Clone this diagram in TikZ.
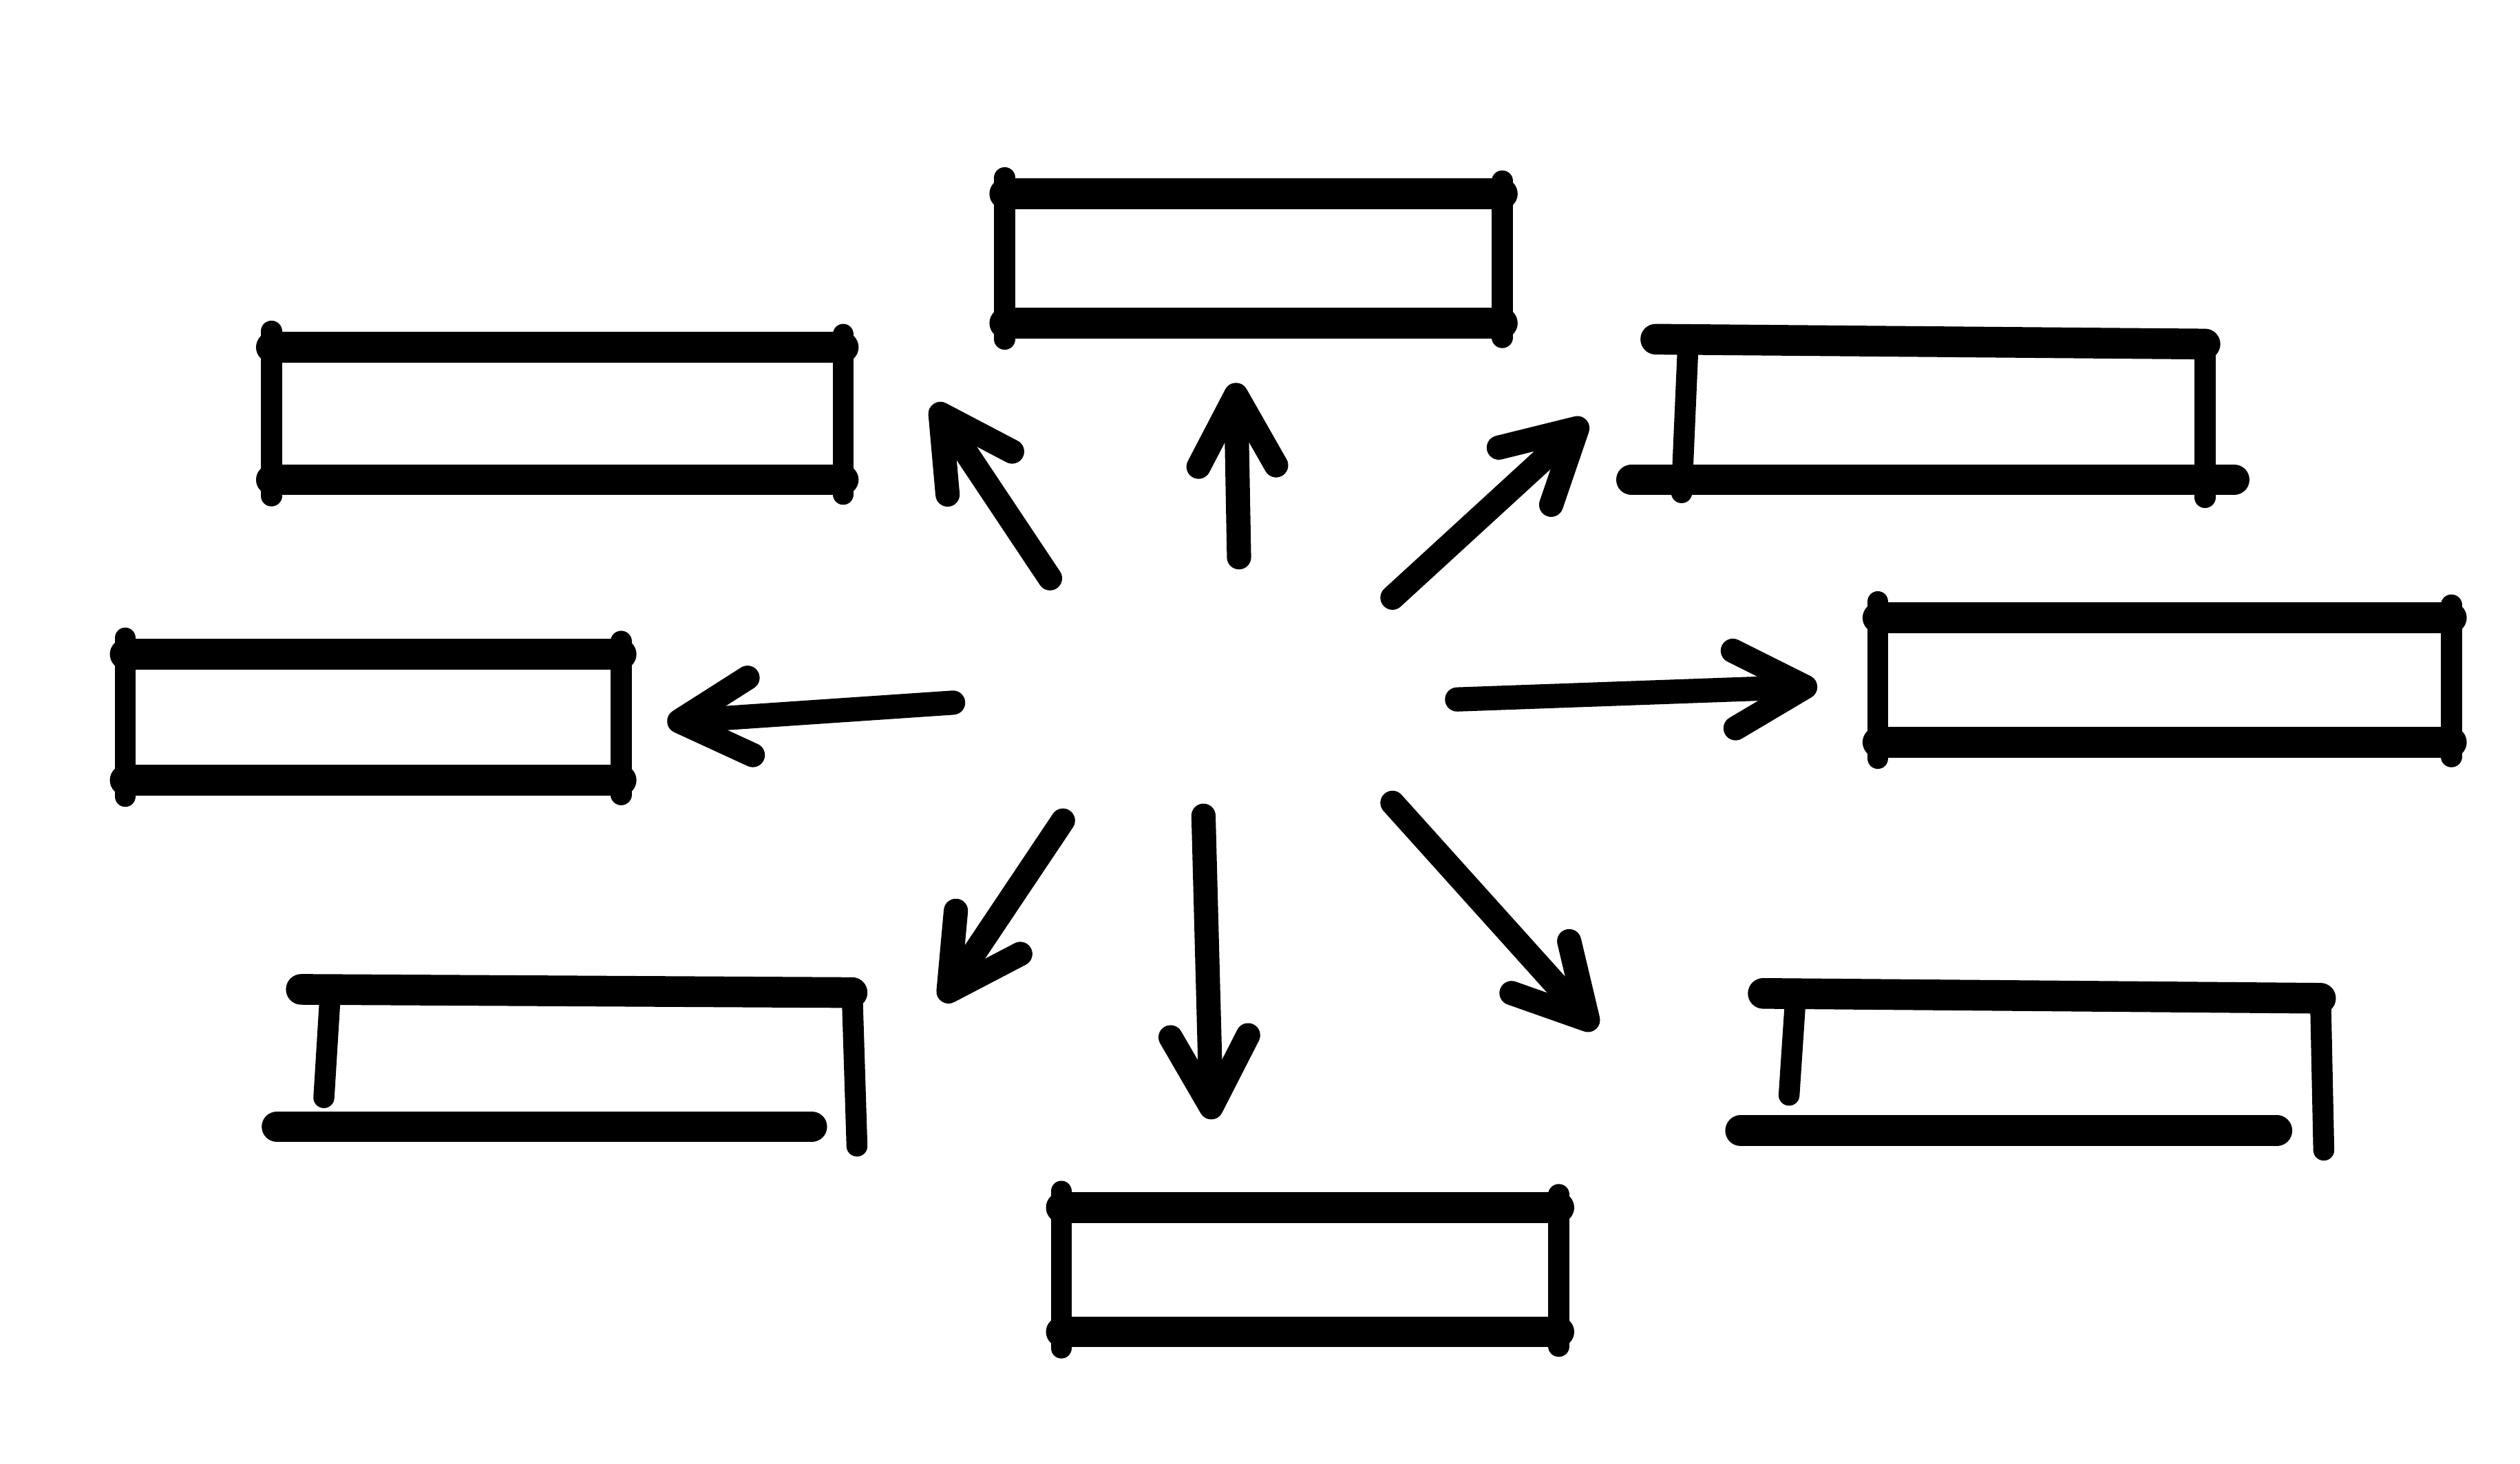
\documentclass[tikz,border=0pt]{standalone}
\usepackage{tikz}
\usetikzlibrary{arrows.meta}

\newcommand{\sketchbox}[1]{%
  \draw[hpen] (#1.north west) -- (#1.north east);
  \draw[hpen] (#1.south west) -- (#1.south east);
  \draw[vpen] ([yshift=10pt]#1.north west) -- ([yshift=-10pt]#1.south west);
  \draw[vpen] ([yshift=8pt]#1.north east) -- ([yshift=-9pt]#1.south east);
}

\begin{document}
\begin{tikzpicture}[x=1pt, y=-1pt]
  \tikzset{
    slot/.style={rectangle, inner sep=0pt, outer sep=0pt, draw=none},
    hpen/.style={line width=19pt, line cap=round, line join=round},
    vpen/.style={line width=13pt, line cap=round, line join=round},
    ray/.style={line width=15pt, line cap=round, line join=round,
      -{Straight Barb[length=44pt, width=48pt, round]}}
  }
  \useasboundingbox (0,0) rectangle (1560,906);

  % the eight boxes
  \node[slot, minimum width=308pt, minimum height=80pt] (top) at (776,160) {};
  \node[slot, minimum width=354pt, minimum height=82pt] (topleft) at (345,256) {};
  \node[slot, minimum width=320pt, minimum height=84pt] (topright) at (1205,255) {};
  \node[slot, minimum width=307pt, minimum height=78pt] (left) at (231,444) {};
  \node[slot, minimum width=355pt, minimum height=77pt] (right) at (1340,421) {};
  \node[slot, minimum width=323pt, minimum height=83pt] (botleft) at (366,656) {};
  \node[slot, minimum width=325pt, minimum height=82pt] (botright) at (1274,659) {};
  \node[slot, minimum width=308pt, minimum height=77pt] (bottom) at (811,786) {};

  \foreach \b in {top,topleft,left,right,bottom} {\sketchbox{\b}}

  % boxes with gaps
  \draw[hpen] ([xshift=-20pt,yshift=3pt]topright.north west) -- (topright.north east);
  \draw[vpen] (topright.north west) -- ([xshift=-4pt,yshift=-8pt]topright.south west);
  \draw[vpen] (topright.north east) -- ([yshift=-11pt]topright.south east);
  \draw[hpen] ([xshift=-35pt]topright.south west) -- ([xshift=18pt]topright.south east);

  \draw[hpen] ([xshift=-18pt,yshift=2pt]botleft.north west) -- (botleft.north east);
  \draw[vpen] (botleft.north west) -- ([xshift=-4pt,yshift=18pt]botleft.south west);
  \draw[vpen] (botleft.north east) -- ([xshift=3pt,yshift=-12pt]botleft.south east);
  \draw[hpen] ([xshift=-33pt]botleft.south west) -- ([xshift=-25pt]botleft.south east);

  \draw[hpen] ([xshift=-20pt,yshift=3pt]botright.north west) -- (botright.north east);
  \draw[vpen] (botright.north west) -- ([xshift=-4pt,yshift=22pt]botright.south west);
  \draw[vpen] (botright.north east) -- ([xshift=2pt,yshift=-12pt]botright.south east);
  \draw[hpen] ([xshift=-34pt]botright.south west) -- ([xshift=-27pt]botright.south east);

  % arrows out of the middle
  \foreach \d/\sx/\sy/\ex/\ey in {n/767/345/765/237, nw/650/358/578/250,
      ne/862/370/982/260, w/590/435/413/447, e/902/433/1125/425,
      sw/658/508/583/620, s/745/505/750/693, se/862/497/988/637} {
    \coordinate (\d-from) at (\sx,\sy);
    \coordinate (\d-to) at (\ex,\ey);
    \draw[ray] (\d-from) -- (\d-to);
  }
\end{tikzpicture}
\end{document}
